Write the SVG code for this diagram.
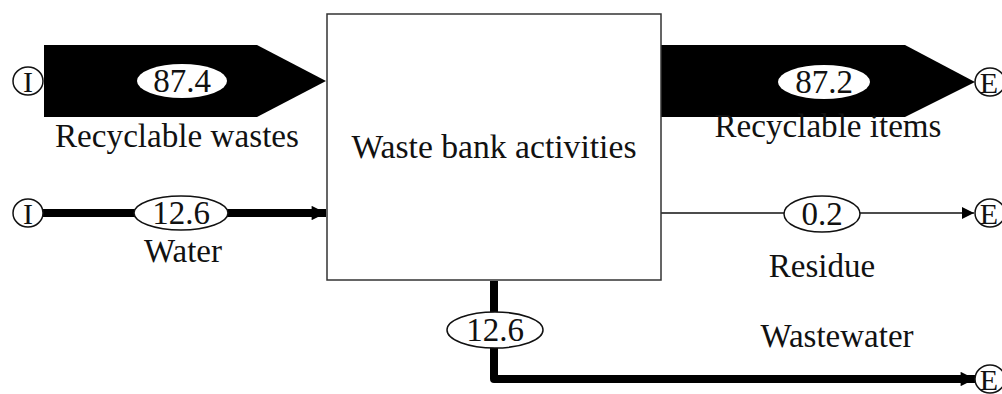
<svg xmlns="http://www.w3.org/2000/svg" width="1002" height="394" viewBox="0 0 1002 394">
<style>
text{font-family:"Liberation Serif","Times New Roman",serif;font-size:33px;fill:#111;text-anchor:middle}
.term-t{font-size:30px}
.lbl{fill:#fff;stroke:#111;stroke-width:1.5}
.term{fill:#fff;stroke:#111;stroke-width:1.5}
.thick{fill:none;stroke:#000;stroke-width:8}
.thin{fill:none;stroke:#111;stroke-width:1.5}
</style>
<defs>
<marker id="ah" viewBox="0 0 10 10" refX="10" refY="5" markerWidth="2" markerHeight="1.8" orient="auto" markerUnits="strokeWidth"><path d="M0,0L10,5L0,10z" fill="#000"/></marker>
<marker id="ahs" viewBox="0 0 10 10" refX="10" refY="5" markerWidth="8" markerHeight="8" orient="auto" markerUnits="strokeWidth"><path d="M0,0L10,5L0,10z" fill="#000"/></marker>
</defs>
<rect width="1002" height="394" fill="#fff"/>
<g id="connectors">
<polygon points="44,45 257,45 326,81 257,117 44,117" fill="#000"/>
<polygon points="661,45 905,45 975,82 905,117 661,117" fill="#000"/>
<path class="thick" d="M43,213H326" marker-end="url(#ah)"/>
<path class="thin" d="M661,213H974" marker-end="url(#ahs)"/>
<path class="thick" d="M494,281V379H975" stroke-linejoin="round" marker-end="url(#ah)"/>
</g>
<g id="process">
<rect x="327" y="14" width="334" height="266" fill="#fff" stroke="#333" stroke-width="1.5"/>
<text x="494" y="158" textLength="285" lengthAdjust="spacingAndGlyphs">Waste bank activities</text>
</g>
<g id="in-recyclable">
<ellipse cx="28" cy="81" rx="15" ry="14" class="term"/>
<text class="term-t" x="28" y="92">I</text>
<ellipse cx="182" cy="81" rx="45" ry="17" fill="#fff"/>
<text x="182" y="92">87.4</text>
<text x="177" y="147" textLength="244" lengthAdjust="spacingAndGlyphs">Recyclable wastes</text>
</g>
<g id="in-water">
<ellipse cx="28" cy="213" rx="15" ry="14" class="term"/>
<text class="term-t" x="28" y="224">I</text>
<ellipse cx="181" cy="213" rx="47" ry="17" class="lbl"/>
<text x="181" y="224">12.6</text>
<text x="183" y="262">Water</text>
</g>
<g id="out-items">
<ellipse cx="990" cy="82" rx="15" ry="14" class="term"/>
<text class="term-t" x="989" y="93">E</text>
<ellipse cx="824" cy="82" rx="46" ry="17" fill="#fff"/>
<text x="824" y="93">87.2</text>
<text x="828" y="137" textLength="227" lengthAdjust="spacingAndGlyphs">Recyclable items</text>
</g>
<g id="out-residue">
<ellipse cx="990" cy="213" rx="15" ry="14" class="term"/>
<text class="term-t" x="989" y="224">E</text>
<ellipse cx="822" cy="214" rx="38" ry="18" class="lbl"/>
<text x="822" y="225">0.2</text>
<text x="822" y="277">Residue</text>
</g>
<g id="out-wastewater">
<ellipse cx="990" cy="379" rx="15" ry="14" class="term"/>
<text class="term-t" x="989" y="390">E</text>
<ellipse cx="495" cy="330" rx="48" ry="18" class="lbl"/>
<text x="495" y="341">12.6</text>
<text x="837" y="347">Wastewater</text>
</g>
</svg>
